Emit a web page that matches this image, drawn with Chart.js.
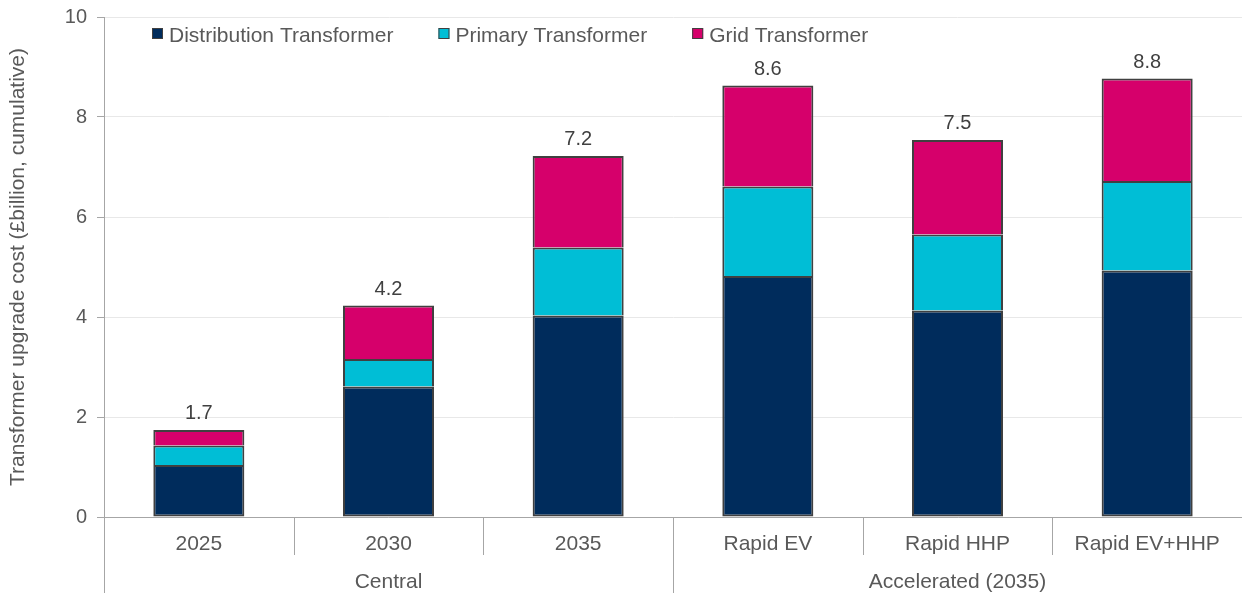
<!DOCTYPE html>
<html>
<head>
<meta charset="utf-8">
<script src="https://cdn.jsdelivr.net/npm/chart.js@4"></script>
<style>
  body { margin: 0; background: #fff; }
  #wrap { width: 1242px; height: 596px; position: relative; }
</style>
</head>
<body>
<div id="wrap"><canvas id="costChart"></canvas></div>
<script>
// data
const categories = ['2025', '2030', '2035', 'Rapid EV', 'Rapid HHP', 'Rapid EV+HHP'];
const groupLabels = ['Central', 'Accelerated (2035)'];
const groupSizes = [3, 3];
const distribution = [1.04, 2.61, 4.03, 4.82, 4.13, 4.93];
const primary = [0.39, 0.55, 1.36, 1.79, 1.52, 1.79];
const gridTx = [0.31, 1.07, 1.83, 2.02, 1.89, 2.05];
const yMin = 0, yMax = 10, yStep = 2;

const FONT = '"Liberation Sans", Arial, sans-serif';
const AXIS_GREY = '#a6a6a6';
const TEXT_GREY = '#595959';

// totals above each stack
const totalsPlugin = {
  id: 'totals',
  afterDatasetsDraw(chart) {
    const ctx = chart.ctx;
    const last = chart.getDatasetMeta(chart.data.datasets.length - 1);
    ctx.save();
    ctx.font = '20px ' + FONT;
    ctx.fillStyle = '#404040';
    ctx.textAlign = 'center';
    ctx.textBaseline = 'alphabetic';
    last.data.forEach((bar, i) => {
      const total = chart.data.datasets.reduce((s, d) => s + d.data[i], 0);
      ctx.fillText(total.toFixed(1), bar.x, bar.y - 11);
    });
    ctx.restore();
  }
};

// legend drawn inside the plot area
const insideLegend = {
  id: 'insideLegend',
  afterDraw(chart) {
    const ctx = chart.ctx;
    ctx.save();
    ctx.font = '21px ' + FONT;
    ctx.textBaseline = 'alphabetic';
    let x = 152;
    const y = 33;
    chart.data.datasets.forEach(ds => {
      ctx.fillStyle = ds.backgroundColor;
      ctx.fillRect(x, y - 5, 11, 11);
      ctx.strokeStyle = '#404040';
      ctx.lineWidth = 1;
      ctx.strokeRect(x + 0.5, y - 4.5, 10, 10);
      ctx.fillStyle = TEXT_GREY;
      ctx.fillText(ds.label, x + 17, y + 9);
      x += 17 + ctx.measureText(ds.label).width + 45;
    });
    ctx.restore();
  }
};

// two-level category axis: separators and group labels
const groupAxis = {
  id: 'groupAxis',
  afterDraw(chart) {
    const ctx = chart.ctx;
    const xs = chart.scales.x;
    const area = chart.chartArea;
    const bottom = area.bottom;
    ctx.save();
    ctx.strokeStyle = AXIS_GREY;
    ctx.lineWidth = 1;
    // y axis carried down through the label rows
    ctx.beginPath();
    ctx.moveTo(Math.round(area.left) + 0.5, bottom);
    ctx.lineTo(Math.round(area.left) + 0.5, 593);
    ctx.stroke();

    let idx = 0;
    let groupStart = area.left;
    ctx.font = '21px ' + FONT;
    ctx.fillStyle = TEXT_GREY;
    ctx.textAlign = 'center';
    ctx.textBaseline = 'middle';
    groupSizes.forEach((size, g) => {
      for (let k = 0; k < size; k++) {
        const i = idx + k;
        if (i < categories.length - 1) {
          const bx = Math.round((xs.getPixelForValue(i) + xs.getPixelForValue(i + 1)) / 2) + 0.5;
          const isGroupEdge = k === size - 1;
          ctx.beginPath();
          ctx.moveTo(bx, bottom);
          ctx.lineTo(bx, isGroupEdge ? 593 : 555);
          ctx.stroke();
        }
      }
      idx += size;
      const groupEnd = idx < categories.length
        ? (xs.getPixelForValue(idx - 1) + xs.getPixelForValue(idx)) / 2
        : area.right;
      ctx.fillText(groupLabels[g], (groupStart + groupEnd) / 2, 582);
      groupStart = groupEnd;
    });
    ctx.restore();
  }
};

const ctx = document.getElementById('costChart').getContext('2d');
new Chart(ctx, {
  type: 'bar',
  data: {
    labels: categories,
    datasets: [
      { label: 'Distribution Transformer', data: distribution, backgroundColor: '#002c5c', borderSkipped: false },
      { label: 'Primary Transformer', data: primary, backgroundColor: '#00bed6', borderSkipped: 'bottom' },
      { label: 'Grid Transformer', data: gridTx, backgroundColor: '#d6006b', borderSkipped: 'bottom' }
    ].map(d => Object.assign(d, {
      borderColor: '#404040',
      borderWidth: 2,
      inflateAmount: 0,
      barPercentage: 0.48,
      categoryPercentage: 1
    }))
  },
  options: {
    responsive: true,
    maintainAspectRatio: false,
    animation: false,
    devicePixelRatio: 1,
    layout: { padding: { top: 0, right: 0, left: 0, bottom: 0 } },
    plugins: {
      legend: { display: false },
      tooltip: { enabled: false }
    },
    scales: {
      x: {
        stacked: true,
        afterFit: s => { s.height = 79; },
        grid: { display: false },
        border: { display: true, color: AXIS_GREY, width: 1 },
        ticks: {
          font: { family: FONT, size: 21 },
          color: TEXT_GREY,
          padding: 7,
          maxRotation: 0,
          autoSkip: false
        }
      },
      y: {
        stacked: true,
        min: yMin,
        max: yMax,
        afterFit: s => { s.width = 104; s.paddingTop = 17; },
        border: { display: true, color: AXIS_GREY, width: 1 },
        grid: { color: '#e8e8e8', tickColor: AXIS_GREY, tickLength: 7 },
        ticks: {
          stepSize: yStep,
          font: { family: FONT, size: 20 },
          color: TEXT_GREY,
          padding: 10
        },
        title: {
          display: true,
          text: 'Transformer upgrade cost (£billion, cumulative)',
          font: { family: FONT, size: 21 },
          color: TEXT_GREY,
          padding: { top: 6, bottom: 0 }
        }
      }
    }
  },
  plugins: [totalsPlugin, insideLegend, groupAxis]
});
</script>
</body>
</html>
